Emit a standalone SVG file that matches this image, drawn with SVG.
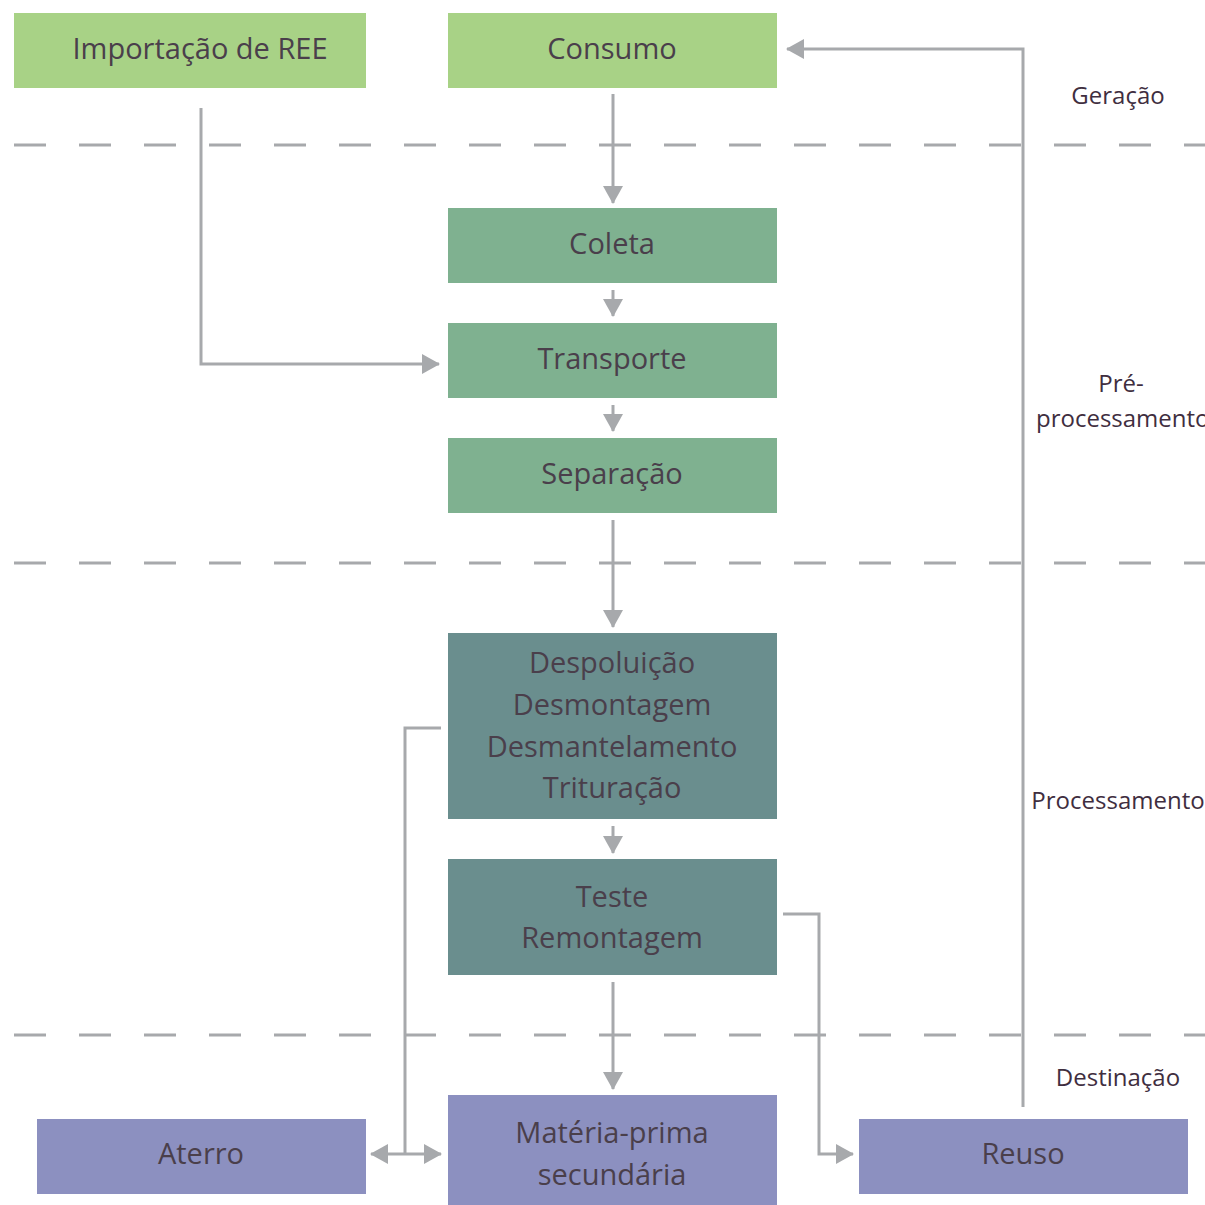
<svg xmlns="http://www.w3.org/2000/svg" width="1205" height="1205" viewBox="0 0 1205 1205">
<defs>
<style>
.g1{fill:#A8D286}
.g2{fill:#7FB190}
.g3{fill:#6A8E8E}
.g4{fill:#8C90C0}
.bt{font-family:"Open Sans","Noto Sans",sans-serif;font-size:29px;fill:#4A3F4B;text-anchor:middle}
.lb{font-family:"Open Sans","Noto Sans",sans-serif;font-size:24px;fill:#3F2E40;text-anchor:middle}
.dash{stroke:#A7A9AC;stroke-width:3;stroke-dasharray:32 33;fill:none}
.con{stroke:#A7A9AC;stroke-width:3;fill:none}
</style>
<marker id="ah" markerUnits="userSpaceOnUse" markerWidth="20" markerHeight="20" viewBox="0 0 18 20" refX="17" refY="10" orient="auto-start-reverse">
<path d="M0,0 L18,10 L0,20 z" fill="#A7A9AC"/>
</marker>
</defs>
<rect width="1205" height="1205" fill="#ffffff"/>
<g id="separators">
<line class="dash" x1="14" y1="145" x2="1205" y2="145"/>
<line class="dash" x1="14" y1="563" x2="1205" y2="563"/>
<line class="dash" x1="14" y1="1035" x2="1205" y2="1035"/>
</g>
<g id="connectors">
<path class="con" d="M613,94 V203" marker-end="url(#ah)"/>
<path class="con" d="M613,290 V316" marker-end="url(#ah)"/>
<path class="con" d="M613,405 V431" marker-end="url(#ah)"/>
<path class="con" d="M613,520 V627" marker-end="url(#ah)"/>
<path class="con" d="M613,826 V853" marker-end="url(#ah)"/>
<path class="con" d="M613,982 V1089" marker-end="url(#ah)"/>
<path class="con" d="M201,108 V364 H439" marker-end="url(#ah)"/>
<path class="con" d="M441,728 H405 V1154"/>
<path class="con" d="M371,1154 H441" marker-start="url(#ah)" marker-end="url(#ah)"/>
<path class="con" d="M783,914 H819 V1154 H853" marker-end="url(#ah)"/>
<path class="con" d="M1023,1107 V49 H787" marker-end="url(#ah)"/>
</g>
<g id="importacao"><rect class="g1" x="14" y="13" width="352" height="75"/><text class="bt" x="200" y="59">Importação de REE</text></g>
<g id="consumo"><rect class="g1" x="448" y="13" width="329" height="75"/><text class="bt" x="612" y="59">Consumo</text></g>
<g id="coleta"><rect class="g2" x="448" y="208" width="329" height="75"/><text class="bt" x="612" y="254">Coleta</text></g>
<g id="transporte"><rect class="g2" x="448" y="323" width="329" height="75"/><text class="bt" x="612" y="369">Transporte</text></g>
<g id="separacao"><rect class="g2" x="448" y="438" width="329" height="75"/><text class="bt" x="612" y="484">Separação</text></g>
<g id="processos"><rect class="g3" x="448" y="633" width="329" height="186"/>
<text class="bt" x="612" y="673">Despoluição</text>
<text class="bt" x="612" y="715">Desmontagem</text>
<text class="bt" x="612" y="757">Desmantelamento</text>
<text class="bt" x="612" y="798">Trituração</text></g>
<g id="teste"><rect class="g3" x="448" y="859" width="329" height="116"/>
<text class="bt" x="612" y="907">Teste</text>
<text class="bt" x="612" y="948">Remontagem</text></g>
<g id="materia"><rect class="g4" x="448" y="1095" width="329" height="110"/>
<text class="bt" x="612" y="1143">Matéria-prima</text>
<text class="bt" x="612" y="1185">secundária</text></g>
<g id="aterro"><rect class="g4" x="37" y="1119" width="329" height="75"/><text class="bt" x="201" y="1164">Aterro</text></g>
<g id="reuso"><rect class="g4" x="859" y="1119" width="329" height="75"/><text class="bt" x="1023" y="1164">Reuso</text></g>
<g id="labels">
<text class="lb" x="1118" y="104">Geração</text>
<text class="lb" x="1121" y="392">Pré-</text>
<text class="lb" x="1036" y="427" style="text-anchor:start">processamento</text>
<text class="lb" x="1118" y="809">Processamento</text>
<text class="lb" x="1118" y="1086">Destinação</text>
</g>
</svg>
